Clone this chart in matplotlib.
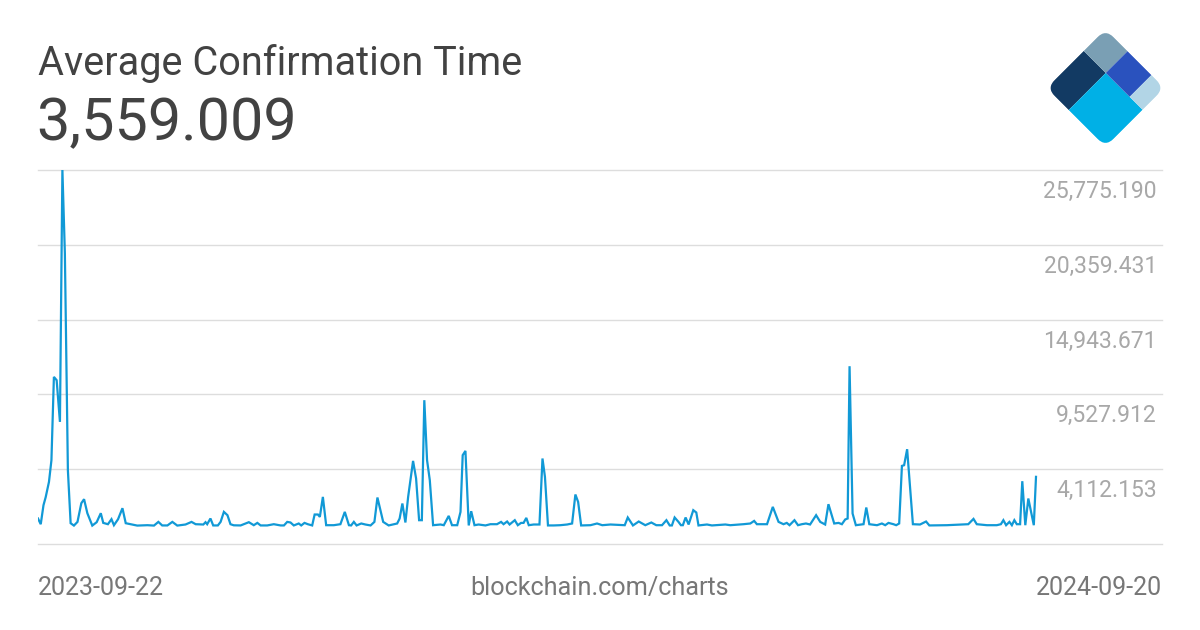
import numpy as np
import pandas as pd
import matplotlib.pyplot as plt
import matplotlib.transforms as mtransforms
from matplotlib.patches import Rectangle, FancyBboxPatch

# Average confirmation time
start_date = pd.Timestamp("2023-09-22")
end_date = pd.Timestamp("2024-09-20")
days = [0, 1.0, 2.0, 2.8, 4.0, 4.9, 5.8, 6.8, 8.0, 8.9, 9.8, 10.9, 11.9, 13.1, 14.4, 15.8, 16.8,
        18.0, 19.8, 21.4, 22.9, 23.8, 25.5, 26.8, 27.7, 29.2, 30.8, 32.0, 33.8, 36.2, 39.9, 42.3,
        43.9, 45.3, 47.2, 49.0, 50.8, 53.8, 56.0, 57.5, 60.3, 61.1, 61.7, 62.9, 63.9, 65.6, 66.6,
        67.8, 69.1, 70.2, 71.4, 73.9, 75.7, 76.9, 78.7, 80.0, 81.2, 83.6, 86.0, 88.5, 89.7, 90.9,
        92.1, 93.3, 95.1, 96.0, 97.2, 98.4, 100.0, 100.9, 102.1, 102.8, 103.9, 105.1, 107.9, 110.3,
        111.9, 113.4, 114.2, 115.2, 116.2, 117.9, 119.4, 121.3, 122.7, 123.8, 125.9, 127.9, 131.0,
        131.9, 132.9, 134.0, 135.0, 136.8, 137.9, 139.0, 140.0, 140.9, 141.9, 142.9, 144.1, 146.8,
        148.0, 149.8, 151.0, 152.9, 154.1, 154.9, 155.9, 157.1, 158.0, 159.2, 160.7, 163.2, 165.0,
        167.4, 168.9, 169.8, 171.1, 172.0, 173.9, 175.0, 176.2, 177.1, 178.1, 179.0, 180.8, 182.9,
        184.0, 184.9, 186.0, 188.1, 190.5, 193.0, 194.8, 196.0, 197.0, 198.1, 201.5, 203.9, 205.8,
        208.8, 214.0, 215.1, 217.0, 219.1, 221.5, 223.7, 225.5, 227.6, 229.2, 230.4, 231.2, 232.2,
        233.6, 234.5, 235.2, 236.2, 237.3, 239.0, 240.1, 240.9, 244.0, 245.8, 250.7, 252.5, 257.3,
        259.8, 261.2, 262.2, 265.9, 268.0, 270.1, 271.9, 273.1, 274.1, 275.9, 277.2, 278.6, 280.1,
        281.6, 283.8, 285.3, 287.1, 288.3, 290.4, 292.0, 293.2, 294.4, 295.3, 296.0, 297.1, 298.3,
        301.1, 302.1, 303.2, 306.0, 307.8, 309.0, 310.2, 312.0, 313.0, 314.1, 315.1, 315.9, 317.0,
        319.1, 321.7, 323.9, 325.1, 331.5, 339.3, 341.2, 342.4, 346.1, 349.7, 351.2, 352.1, 353.1,
        354.3, 355.2, 356.1, 357.0, 358.2, 359.0, 360.1, 361.2, 363.2, 364.0]
values = [543, 130, 1506, 2085, 3193, 4764, 10795, 10556, 7537, 25775.19, 19750, 4040, 202, 30, 297,
          1650, 1940, 926, 30, 275, 926, 224, 130, 492, 58, 492, 1288, 202, 130, 30, 58, 30, 297,
          40, 40, 297, 30, 108, 297, 130, 108, 275, 130, 543, 40, 40, 297, 1021, 782, 130, 50, 40,
          181, 275, 58, 224, 40, 40, 130, 40, 40, 297, 253, 40, 181, 40, 224, 130, 40, 832, 832,
          658, 2107, 58, 58, 130, 1021, 58, 40, 297, 40, 181, 108, 40, 297, 2063, 297, 40, 181,
          543, 1629, 253, 2107, 4713, 3439, 420, 420, 9108, 4764, 3316, 58, 108, 58, 731, 58, 58,
          1021, 5126, 5437, 40, 1071, 58, 108, 40, 130, 130, 297, 130, 325, 108, 420, 58, 224, 224,
          586, 58, 108, 108, 4887, 3555, 40, 40, 58, 108, 181, 2280, 1745, 40, 58, 181, 58, 108,
          58, 615, 40, 325, 58, 253, 58, 58, 420, 40, 40, 615, 297, 58, 58, 615, 108, 1144, 977,
          40, 108, 40, 108, 58, 130, 181, 369, 130, 130, 1383, 297, 130, 224, 58, 420, 58, 130,
          181, 108, 782, 297, 108, 1578, 181, 224, 130, 470, 543, 11569, 905, 58, 130, 1339, 130,
          58, 181, 58, 224, 130, 58, 181, 4351, 4402, 5560, 130, 108, 325, 40, 58, 130, 514, 130,
          58, 58, 130, 420, 58, 297, 58, 420, 130, 130, 3243, 58, 1991, 58, 3559.009]

title = "Average Confirmation Time"
current_value = "3,559.009"
tick_values = [25775.190, 20359.431, 14943.671, 9527.912, 4112.153]
y_min = -1303.606

W, H = 1200, 630
fig = plt.figure(figsize=(12, 6.3), dpi=100)
fig.patch.set_facecolor("white")
plt.rcParams['font.family'] = ['Roboto', 'DejaVu Sans']

# main plot area (data ends before the tick labels on the right)
ax_left, ax_right, ax_top, ax_bottom = 38, 1162, 170, 544
data_right = 1036
ax = fig.add_axes([ax_left / W, 1 - ax_bottom / H, (ax_right - ax_left) / W, (ax_bottom - ax_top) / H])
span = (end_date - start_date).days
ax.set_xlim(0, span * (ax_right - ax_left) / (data_right - ax_left))
ax.set_ylim(y_min, tick_values[0])

for t in tick_values + [y_min]:
    ax.axhline(t, color="#dddddd", linewidth=1, zorder=1, clip_on=False)

ax.plot(days, values, color="#1199d6", linewidth=1.6, zorder=3, solid_joinstyle="miter")

ax.set_axis_off()

# tick labels below each gridline, right aligned
trans = mtransforms.blended_transform_factory(ax.transAxes, ax.transData)
trans = mtransforms.offset_copy(trans, fig=fig, x=-5, y=-28, units="dots")
for t in tick_values:
    ax.text(1.0, t, f"{t:,.3f}", transform=trans, ha="right", va="baseline",
            fontsize=16.5, color="#a8a8a8")

# header
fig.text(38 / W, 1 - 75 / H, title, fontsize=28.5, color="#424242", ha="left", va="baseline")
fig.text(36 / W, 1 - 140 / H, current_value, fontsize=42.7, color="#424242", ha="left", va="baseline")

# footer
fig.text(38 / W, 1 - 595 / H, start_date.strftime("%Y-%m-%d"), fontsize=18, color="#777777",
         ha="left", va="baseline")
fig.text(600 / W, 1 - 595 / H, "blockchain.com/charts", fontsize=18.2, color="#777777",
         ha="center", va="baseline")
fig.text(1162 / W, 1 - 595 / H, end_date.strftime("%Y-%m-%d"), fontsize=18, color="#777777",
         ha="right", va="baseline")

# logo: rounded square rotated 45 degrees, split into five blocks
lx, ly, size = 1046.5, 29, 118
lax = fig.add_axes([lx / W, 1 - (ly + size) / H, size / W, size / H])
lax.set_xlim(0, np.sqrt(2))
lax.set_ylim(-np.sqrt(2) / 2, np.sqrt(2) / 2)
lax.set_axis_off()
rot = mtransforms.Affine2D().rotate_deg(-45) + lax.transData
clip = FancyBboxPatch((0, 0), 1, 1, boxstyle="round,pad=0,rounding_size=0.14",
                      transform=rot, facecolor="none", edgecolor="none")
lax.add_patch(clip)
blocks = [  # (b0, a0, width in b, height in a, colour)
    (0.0, 0.0, 0.375, 0.63, "#123a63"),
    (0.0, 0.63, 0.375, 0.37, "#7a9fb4"),
    (0.375, 0.0, 0.625, 0.63, "#00b0e6"),
    (0.375, 0.63, 0.405, 0.37, "#2a52be"),
    (0.78, 0.63, 0.22, 0.37, "#b2d5e6"),
]
for b0, a0, wb, ha, col in blocks:
    r = Rectangle((b0, a0), wb, ha, transform=rot, facecolor=col, edgecolor="none")
    lax.add_patch(r)
    r.set_clip_path(clip)

fig.savefig("out.png", dpi=100, facecolor="white")
